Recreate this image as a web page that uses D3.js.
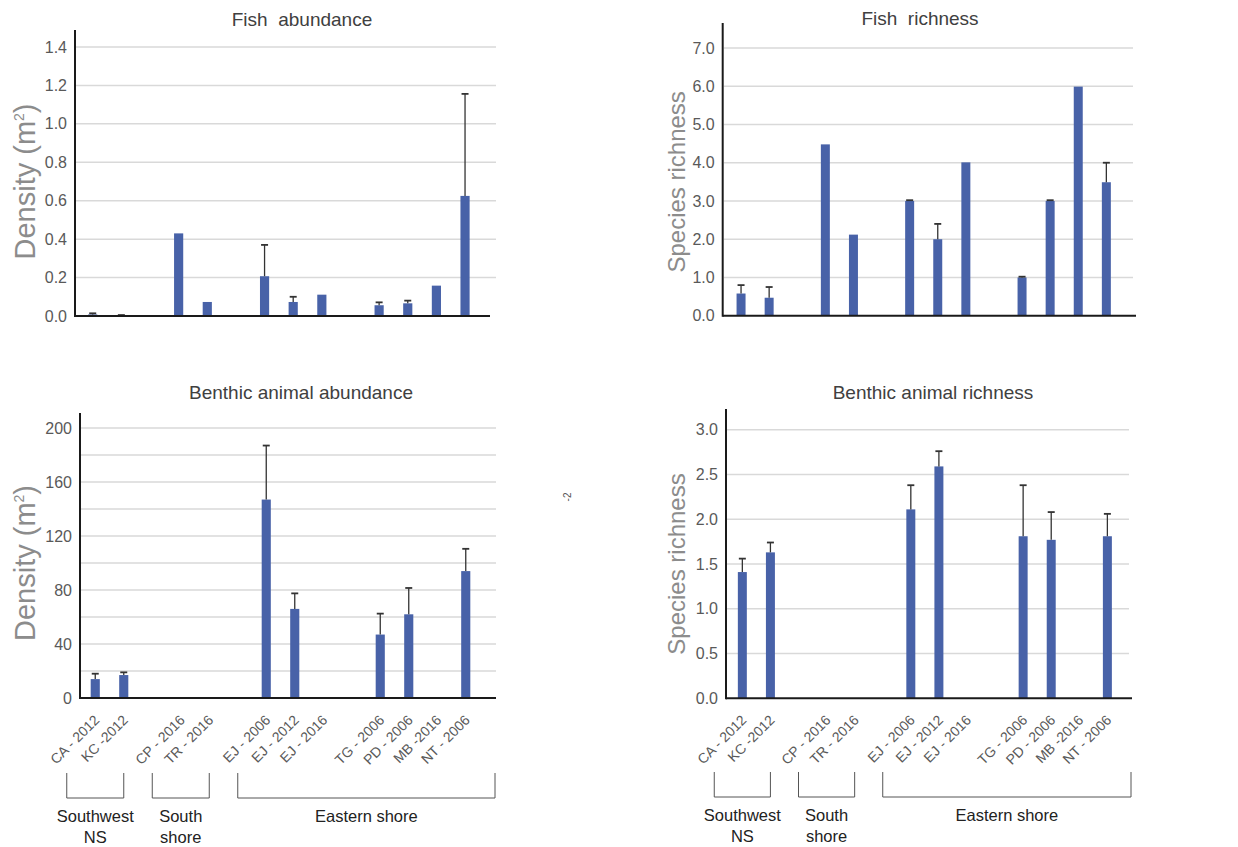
<!DOCTYPE html>
<html><head><meta charset="utf-8">
<script src="https://cdn.jsdelivr.net/npm/d3@7"></script>
<style>
body{margin:0;background:#fff}
svg{display:block;font-family:"Liberation Sans",Arial,Helvetica,sans-serif}
</style>
</head><body>
<svg id="c" width="1238" height="847"></svg>
<script>
// ---------------- data ----------------
const categories = ["CA - 2012","KC -2012",null,"CP - 2016","TR - 2016",null,"EJ - 2006","EJ - 2012","EJ - 2016",null,"TG - 2006","PD - 2006","MB -2016","NT - 2006"];

const fishAbundance      = [0.008, 0.004, null, 0.43, 0.073, null, 0.207, 0.073, 0.111, null, 0.056, 0.066, 0.158, 0.625];
const fishAbundanceErr   = [0.006, 0.001, null, 0,    0,     null, 0.163, 0.027, 0,     null, 0.015, 0.014, 0,     0.531];

const fishRichness       = [0.58, 0.47, null, 4.48, 2.12, null, 3.0,  2.0, 4.01, null, 1.0,  3.0,  5.99, 3.49];
const fishRichnessErr    = [0.22, 0.28, null, 0,    0,    null, 0.02, 0.4, 0,    null, 0.02, 0.02, 0,    0.51];

const benthicAbundance    = [14, 17,  null, null, null, null, 147, 66,   null, null, 47,   62,   null, 94];
const benthicAbundanceErr = [4,  2,   null, null, null, null, 40,  11.5, null, null, 15.5, 19.5, null, 16.5];

const benthicRichness    = [1.41, 1.63, null, null, null, null, 2.11, 2.59, null, null, 1.81, 1.77, null, 1.81];
const benthicRichnessErr = [0.15, 0.11, null, null, null, null, 0.27, 0.17, null, null, 0.57, 0.31, null, 0.25];

const groupNames = [["Southwest","NS"],["South","shore"],["Eastern shore"]];
const groupFirst = ["CA - 2012","CP - 2016","EJ - 2006"];
const groupLast  = ["KC -2012","TR - 2016","NT - 2006"];

const titles = ["Fish  abundance","Fish  richness","Benthic animal abundance","Benthic animal richness"];
// ---------------- drawing ----------------
const svg = d3.select("#c");
svg.append("rect").attr("width",1238).attr("height",847).attr("fill","#fff");

const BAR = "#4862A8";
const layouts = [
 {values:fishAbundance, errors:fishAbundanceErr, title:titles[0], titleX:302, titleY:26,
  ylabel:"density", ylabX:35, ylabSize:29,
  axisX:75, y0:316, yTopVal:1.4, yTopPx:47, axisTop:30, gridStep:0.2, labelStep:0.2, fmt:".1f",
  gridRight:496, baseRight:490, xStart:78.4, xStep:28.64, showX:false},
 {values:fishRichness, errors:fishRichnessErr, title:titles[1], titleX:920, titleY:25,
  ylabel:"Species richness", ylabX:685, ylabSize:24,
  axisX:722.7, y0:315.7, yTopVal:7, yTopPx:48, axisTop:23, gridStep:1, labelStep:1, fmt:".1f",
  gridRight:1133, baseRight:1136, xStart:727, xStep:28.1, showX:false},
 {values:benthicAbundance, errors:benthicAbundanceErr, title:titles[2], titleX:301, titleY:399,
  ylabel:"density", ylabX:35, ylabSize:29,
  axisX:80, y0:698, yTopVal:200, yTopPx:428, axisTop:413, gridStep:20, labelStep:40, fmt:"d",
  gridRight:496, baseRight:496, xStart:81, xStep:28.5, showX:true, bracketTop:773, bracketBot:798},
 {values:benthicRichness, errors:benthicRichnessErr, title:titles[3], titleX:933, titleY:399,
  ylabel:"Species richness", ylabX:685, ylabSize:24,
  axisX:726, y0:698.3, yTopVal:3, yTopPx:429.7, axisTop:409, gridStep:0.5, labelStep:0.5, fmt:".1f",
  gridRight:1129, baseRight:1132, xStart:728.3, xStep:28.08, showX:true, bracketTop:772, bracketBot:797}
];

function drawChart(L){
  const g = svg.append("g");
  const n = categories.length;
  const x = d3.scaleBand().domain(d3.range(n))
      .range([L.xStart, L.xStart + n*L.xStep]).paddingInner(0.68).paddingOuter(0.34);
  const y = d3.scaleLinear().domain([0, L.yTopVal]).range([L.y0, L.yTopPx]);

  // gridlines
  const gridVals = d3.range(1, Math.round(L.yTopVal/L.gridStep)+1).map(i => +(i*L.gridStep).toFixed(4));
  g.append("g").selectAll("line").data(gridVals).join("line")
    .attr("x1", L.axisX+1).attr("x2", L.gridRight)
    .attr("y1", d => y(d)).attr("y2", d => y(d))
    .attr("stroke", "#d9d9d9").attr("stroke-width", 1.5);

  // tick labels via d3 axis
  const labelVals = d3.range(0, Math.round(L.yTopVal/L.labelStep)+1).map(i => +(i*L.labelStep).toFixed(4));
  const ax = d3.axisLeft(y).tickValues(labelVals).tickSize(0).tickPadding(8).tickFormat(d3.format(L.fmt));
  const axG = g.append("g").attr("transform", `translate(${L.axisX},0)`).call(ax);
  axG.select(".domain").remove();
  axG.attr("font-family", null).attr("font-size", null);
  axG.selectAll("text").style("font-size","16px").attr("fill","#595959");

  // bars
  const data = L.values.map((v,i) => ({i, v, e: L.errors[i]})).filter(d => d.v != null);
  g.append("g").selectAll("rect").data(data).join("rect")
    .attr("x", d => x(d.i)).attr("width", x.bandwidth())
    .attr("y", d => y(d.v)).attr("height", d => L.y0 - y(d.v))
    .attr("fill", BAR);

  // error bars (upper only)
  const eb = g.append("g").attr("stroke","#333").attr("stroke-width",1.3);
  data.filter(d => d.e > 0).forEach(d => {
    const cx = x(d.i) + x.bandwidth()/2;
    eb.append("line").attr("x1",cx).attr("x2",cx).attr("y1",y(d.v)).attr("y2",y(d.v+d.e));
    eb.append("line").attr("x1",cx-3.5).attr("x2",cx+3.5).attr("y1",y(d.v+d.e)).attr("y2",y(d.v+d.e)).attr("stroke-width",1.8);
  });

  // axes lines
  g.append("line").attr("x1",L.axisX).attr("x2",L.axisX).attr("y1",L.axisTop).attr("y2",L.y0+1)
    .attr("stroke","#1a1a1a").attr("stroke-width",2);
  g.append("line").attr("x1",L.axisX).attr("x2",L.baseRight).attr("y1",L.y0).attr("y2",L.y0)
    .attr("stroke","#1a1a1a").attr("stroke-width",2);

  // title
  g.append("text").attr("x",L.titleX).attr("y",L.titleY).attr("text-anchor","middle")
    .style("white-space","pre").attr("font-size",19).attr("fill","#404040").text(L.title);

  // y label
  const cy = (L.y0 + L.yTopPx)/2;
  const yl = g.append("text").attr("transform",`translate(${L.ylabX},${cy}) rotate(-90)`)
    .attr("text-anchor","middle").attr("font-size",L.ylabSize).attr("fill","#8c8c8c");
  if (L.ylabel === "density") {
    yl.append("tspan").text("Density (m");
    yl.append("tspan").attr("dy",-11).attr("font-size",14).text("2");
    yl.append("tspan").attr("dy",11).text(")");
  } else {
    yl.text(L.ylabel);
  }

  // x labels, brackets, groups
  if (L.showX) {
    const cxOf = i => x(i) + x.bandwidth()/2;
    g.append("g").selectAll("text").data(categories.map((c,i)=>({c,i})).filter(d=>d.c))
      .join("text")
      .attr("transform", d => `translate(${cxOf(d.i)+5},721) rotate(-45)`)
      .attr("text-anchor","end").attr("font-size",14).attr("fill","#595959")
      .style("white-space","pre")
      .text(d => d.c);

    const step = x.step();
    groupNames.forEach((name, k) => {
      const fi = categories.indexOf(groupFirst[k]);
      const li = categories.indexOf(groupLast[k]);
      const left = cxOf(fi) - step;
      const right = (k === groupNames.length-1) ? L.baseRight - 1 : cxOf(li);
      g.append("path")
        .attr("d", `M${left},${L.bracketTop}V${L.bracketBot}H${right}V${L.bracketTop}`)
        .attr("fill","none").attr("stroke","#555").attr("stroke-width",1);
      const mid = (left+right)/2;
      name.forEach((line, j) => {
        g.append("text").attr("x",mid).attr("y",L.bracketBot + 24 + j*21)
          .attr("text-anchor","middle").attr("font-size",16.5).attr("fill","#222").text(line);
      });
    });
  }
  return {x, y};
}

const scales = layouts.map(drawChart);

// stray "-2" note in benthic abundance panel
svg.append("text").attr("transform","translate(571,497) rotate(-90)")
  .attr("text-anchor","middle").attr("font-size",10).attr("fill","#555").text("-2");
</script>
</body></html>
